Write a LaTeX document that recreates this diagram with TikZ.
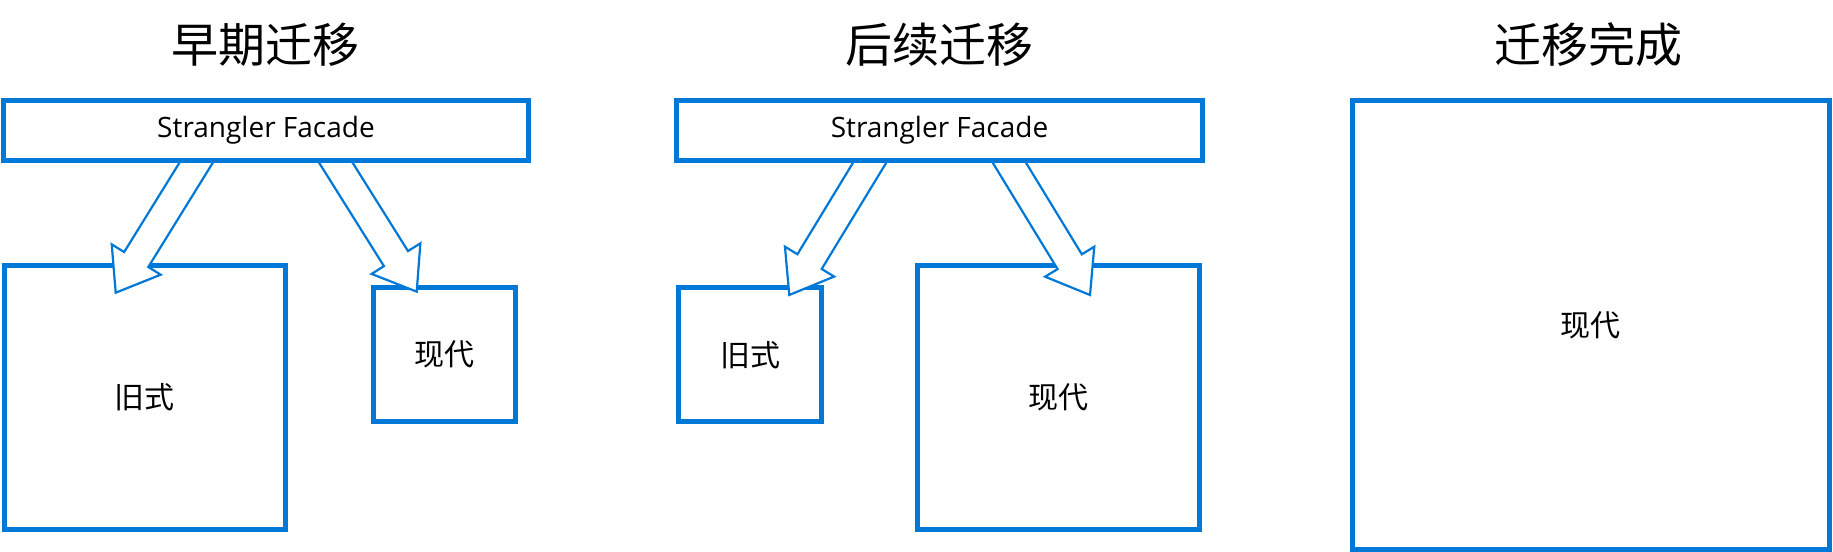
\documentclass[tikz,border=0pt]{standalone}
\usepackage{fontspec}
\setmainfont{Open Sans}
\newfontfamily\cjk{Noto Sans CJK SC}
\usetikzlibrary{calc}
\definecolor{msblue}{RGB}{0,120,215}
\pgfdeclarelayer{front}
\pgfsetlayers{main,front}
\newcommand\hollowarrow[2]{%
  \coordinate (ha-b) at ($(#1)!-12pt!(#2)$);
  \coordinate (ha-n) at ($(#2)!19.5pt!(#1)$);
  \draw[blockarrow] ($(ha-b)!7.1pt!90:(#2)$) -- ($(ha-n)!7.1pt!90:(#2)$)
    -- ($(ha-n)!14.4pt!90:(#2)$) -- (#2) -- ($(ha-n)!14.4pt!-90:(#2)$)
    -- ($(ha-n)!7.1pt!-90:(#2)$) -- ($(ha-b)!7.1pt!-90:(#2)$) -- cycle;
}
\begin{document}
\begin{tikzpicture}[x=0.5pt,y=-0.5pt,
  box/.style={draw=msblue, line width=2.5pt, fill=white, inner sep=0pt,
    font=\cjk\fontsize{15pt}{18pt}\selectfont},
  facade/.style={box, minimum height=29.85pt, font=\fontsize{14pt}{17pt}\selectfont},
  title/.style={inner sep=0pt, font=\cjk\fontsize{23.5pt}{28pt}\selectfont},
  blockarrow/.style={draw=msblue, line width=1.1pt, fill=white, line join=miter}]
\useasboundingbox (0,0) rectangle (1833,552);
% titles
\node[title] (h1) at (265,45) {早期迁移};
\node[title] (h2) at (939.5,45) {后续迁移};
\node[title] (h3) at (1588,45) {迁移完成};
% facades (on top of arrow tails)
\begin{pgfonlayer}{front}
\node[facade, minimum width=262.5pt] (f1) at (266,130.6) {\raisebox{-1.2pt}{Strangler Facade}};
\node[facade, minimum width=263pt] (f2) at (939.5,130.6) {\raisebox{-1.2pt}{Strangler Facade}};
\end{pgfonlayer}
% systems
\node[box, minimum width=140.9pt, minimum height=132.4pt] (old1) at (144.9,397.4) {旧式};
\node[box, minimum width=71.35pt, minimum height=67.25pt] (mod1) at (444.4,354.7) {现代};
\node[box, minimum width=71.7pt, minimum height=67.25pt] (old2) at (750,354.7) {旧式};
\node[box, minimum width=141pt, minimum height=132.4pt] (mod2) at (1058.5,397.4) {现代};
\node[box, minimum width=238.5pt, minimum height=224.1pt] (mod3) at (1590.5,324.9) {现代};
% arrow end points
\coordinate (a1t) at ($(f1.south)+(-70,0)$);
\coordinate (a1p) at ($(old1.north)+(-29.2,30.2)$);
\coordinate (a2t) at ($(f1.south)+(70,0)$);
\coordinate (a2p) at ($(mod1.north)+(-27.7,6.7)$);
\coordinate (a3t) at ($(f2.south)+(-70,0)$);
\coordinate (a3p) at ($(old2.north)+(39.3,10)$);
\coordinate (a4t) at ($(f2.south)+(70,0)$);
\coordinate (a4p) at ($(mod2.north)+(31.5,32.5)$);
\hollowarrow{a1t}{a1p}
\hollowarrow{a2t}{a2p}
\hollowarrow{a3t}{a3p}
\hollowarrow{a4t}{a4p}
\end{tikzpicture}
\end{document}
